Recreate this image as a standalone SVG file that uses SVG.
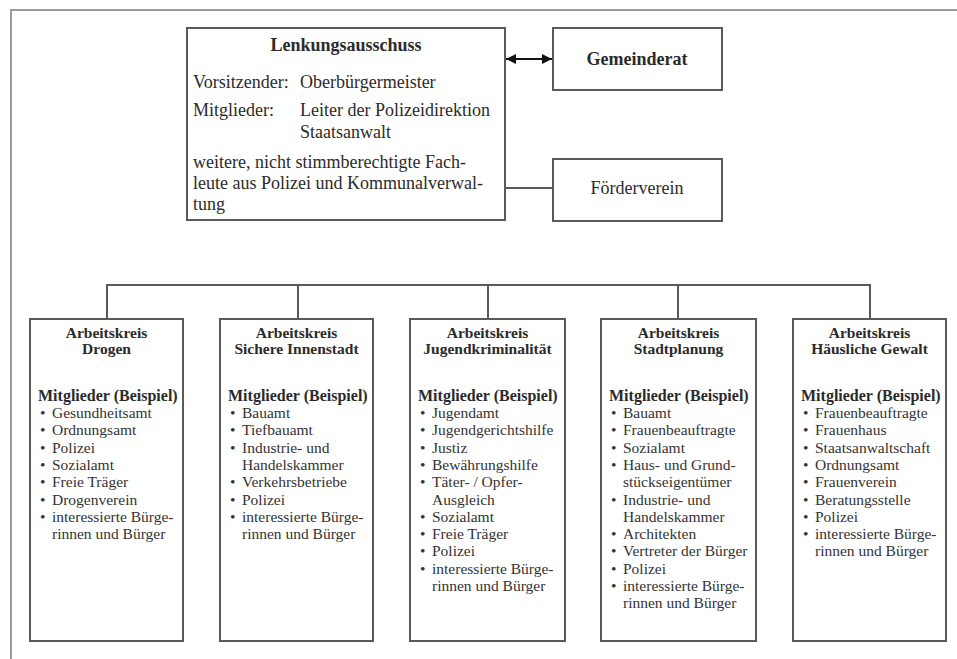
<svg xmlns="http://www.w3.org/2000/svg" width="957" height="659" viewBox="0 0 957 659">
<style>
.frame{fill:none;stroke:#9a9a9a;stroke-width:2}
.box{fill:#fff;stroke:#5a5a5a;stroke-width:2}
.ln{fill:none;stroke:#5a5a5a;stroke-width:2}
text{font-family:"Liberation Serif","Times New Roman",serif;fill:#2b2b2b}
.t18{font-size:18px}
.b18{font-size:18px;font-weight:bold}
.ttl{font-size:15.5px;font-weight:bold;text-anchor:middle}
.mit{font-size:16px;font-weight:bold}
.it{font-size:15.5px;fill:#333}
.mid{text-anchor:middle}
</style>
<defs>
<marker id="ah" viewBox="0 0 10 10" refX="10" refY="5" markerWidth="5" markerHeight="5" orient="auto-start-reverse">
<path d="M0,0 L10,5 L0,10 z" fill="#111"/>
</marker>
</defs>
<rect width="957" height="659" fill="#fff"/>
<path class="frame" d="M11,659 V10 H957"/>

<g id="lenkungsausschuss">
<rect class="box" x="187" y="28" width="318" height="192"/>
<text class="b18 mid" x="346" y="51">Lenkungsausschuss</text>
<text class="t18" x="193" y="88">Vorsitzender:</text>
<text class="t18" x="300" y="88">Oberbürgermeister</text>
<text class="t18" x="193" y="116">Mitglieder:</text>
<text class="t18" x="300" y="116">Leiter der Polizeidirektion</text>
<text class="t18" x="300" y="138">Staatsanwalt</text>
<text class="t18" x="193" y="168">weitere, nicht stimmberechtigte Fach-</text>
<text class="t18" x="193" y="189">leute aus Polizei und Kommunalverwal-</text>
<text class="t18" x="193" y="210">tung</text>
</g>

<g id="gemeinderat">
<rect class="box" x="553" y="28" width="169" height="62"/>
<text class="b18 mid" x="637" y="65">Gemeinderat</text>
</g>

<g id="foerderverein">
<rect class="box" x="553" y="159" width="169" height="62"/>
<text class="t18 mid" x="637" y="194">Förderverein</text>
</g>

<g id="connectors">
<line class="ln" x1="506" y1="59" x2="552" y2="59" marker-start="url(#ah)" marker-end="url(#ah)" style="stroke:#111"/>
<line class="ln" x1="505" y1="188" x2="553" y2="188"/>
<path class="ln" d="M107,319 V285 H870 V319 M298,285 V319 M488,285 V319 M678,285 V319"/>
</g>

<g id="ak-drogen">
<rect class="box" x="30" y="319" width="153" height="322"/>
<text class="ttl" x="106.5" y="338">Arbeitskreis</text>
<text class="ttl" x="106.5" y="354">Drogen</text>
<text class="mit" x="38" y="401">Mitglieder (Beispiel)</text>
<g class="it">
<text class="it" x="40" y="418">•</text><text class="it" x="52" y="418">Gesundheitsamt</text>
<text class="it" x="40" y="435.3">•</text><text class="it" x="52" y="435.3">Ordnungsamt</text>
<text class="it" x="40" y="452.6">•</text><text class="it" x="52" y="452.6">Polizei</text>
<text class="it" x="40" y="469.9">•</text><text class="it" x="52" y="469.9">Sozialamt</text>
<text class="it" x="40" y="487.2">•</text><text class="it" x="52" y="487.2">Freie Träger</text>
<text class="it" x="40" y="504.5">•</text><text class="it" x="52" y="504.5">Drogenverein</text>
<text class="it" x="40" y="521.8">•</text><text class="it" x="52" y="521.8">interessierte Bürge-</text>
<text class="it" x="52" y="539.1">rinnen und Bürger</text>
</g>
</g>

<g id="ak-innenstadt">
<rect class="box" x="220" y="319" width="153" height="322"/>
<text class="ttl" x="296.5" y="338">Arbeitskreis</text>
<text class="ttl" x="296.5" y="354">Sichere Innenstadt</text>
<text class="mit" x="228" y="401">Mitglieder (Beispiel)</text>
<text class="it" x="230" y="418">•</text><text class="it" x="242" y="418">Bauamt</text>
<text class="it" x="230" y="435.3">•</text><text class="it" x="242" y="435.3">Tiefbauamt</text>
<text class="it" x="230" y="452.6">•</text><text class="it" x="242" y="452.6">Industrie- und</text>
<text class="it" x="242" y="469.9">Handelskammer</text>
<text class="it" x="230" y="487.2">•</text><text class="it" x="242" y="487.2">Verkehrsbetriebe</text>
<text class="it" x="230" y="504.5">•</text><text class="it" x="242" y="504.5">Polizei</text>
<text class="it" x="230" y="521.8">•</text><text class="it" x="242" y="521.8">interessierte Bürge-</text>
<text class="it" x="242" y="539.1">rinnen und Bürger</text>
</g>

<g id="ak-jugend">
<rect class="box" x="410" y="319" width="155" height="322"/>
<text class="ttl" x="487.5" y="338">Arbeitskreis</text>
<text class="ttl" x="487.5" y="354">Jugendkriminalität</text>
<text class="mit" x="418" y="401">Mitglieder (Beispiel)</text>
<text class="it" x="420" y="418">•</text><text class="it" x="432" y="418">Jugendamt</text>
<text class="it" x="420" y="435.3">•</text><text class="it" x="432" y="435.3">Jugendgerichtshilfe</text>
<text class="it" x="420" y="452.6">•</text><text class="it" x="432" y="452.6">Justiz</text>
<text class="it" x="420" y="469.9">•</text><text class="it" x="432" y="469.9">Bewährungshilfe</text>
<text class="it" x="420" y="487.2">•</text><text class="it" x="432" y="487.2">Täter- / Opfer-</text>
<text class="it" x="432" y="504.5">Ausgleich</text>
<text class="it" x="420" y="521.8">•</text><text class="it" x="432" y="521.8">Sozialamt</text>
<text class="it" x="420" y="539.1">•</text><text class="it" x="432" y="539.1">Freie Träger</text>
<text class="it" x="420" y="556.4">•</text><text class="it" x="432" y="556.4">Polizei</text>
<text class="it" x="420" y="573.7">•</text><text class="it" x="432" y="573.7">interessierte Bürge-</text>
<text class="it" x="432" y="591">rinnen und Bürger</text>
</g>

<g id="ak-stadtplanung">
<rect class="box" x="601" y="319" width="155" height="322"/>
<text class="ttl" x="678.5" y="338">Arbeitskreis</text>
<text class="ttl" x="678.5" y="354">Stadtplanung</text>
<text class="mit" x="609" y="401">Mitglieder (Beispiel)</text>
<text class="it" x="611" y="418">•</text><text class="it" x="623" y="418">Bauamt</text>
<text class="it" x="611" y="435.3">•</text><text class="it" x="623" y="435.3">Frauenbeauftragte</text>
<text class="it" x="611" y="452.6">•</text><text class="it" x="623" y="452.6">Sozialamt</text>
<text class="it" x="611" y="469.9">•</text><text class="it" x="623" y="469.9">Haus- und Grund-</text>
<text class="it" x="623" y="487.2">stückseigentümer</text>
<text class="it" x="611" y="504.5">•</text><text class="it" x="623" y="504.5">Industrie- und</text>
<text class="it" x="623" y="521.8">Handelskammer</text>
<text class="it" x="611" y="539.1">•</text><text class="it" x="623" y="539.1">Architekten</text>
<text class="it" x="611" y="556.4">•</text><text class="it" x="623" y="556.4">Vertreter der Bürger</text>
<text class="it" x="611" y="573.7">•</text><text class="it" x="623" y="573.7">Polizei</text>
<text class="it" x="611" y="591">•</text><text class="it" x="623" y="591">interessierte Bürge-</text>
<text class="it" x="623" y="608.3">rinnen und Bürger</text>
</g>

<g id="ak-gewalt">
<rect class="box" x="793" y="319" width="153" height="322"/>
<text class="ttl" x="869.5" y="338">Arbeitskreis</text>
<text class="ttl" x="869.5" y="354">Häusliche Gewalt</text>
<text class="mit" x="801" y="401">Mitglieder (Beispiel)</text>
<text class="it" x="803" y="418">•</text><text class="it" x="815" y="418">Frauenbeauftragte</text>
<text class="it" x="803" y="435.3">•</text><text class="it" x="815" y="435.3">Frauenhaus</text>
<text class="it" x="803" y="452.6">•</text><text class="it" x="815" y="452.6">Staatsanwaltschaft</text>
<text class="it" x="803" y="469.9">•</text><text class="it" x="815" y="469.9">Ordnungsamt</text>
<text class="it" x="803" y="487.2">•</text><text class="it" x="815" y="487.2">Frauenverein</text>
<text class="it" x="803" y="504.5">•</text><text class="it" x="815" y="504.5">Beratungsstelle</text>
<text class="it" x="803" y="521.8">•</text><text class="it" x="815" y="521.8">Polizei</text>
<text class="it" x="803" y="539.1">•</text><text class="it" x="815" y="539.1">interessierte Bürge-</text>
<text class="it" x="815" y="556.4">rinnen und Bürger</text>
</g>
</svg>
